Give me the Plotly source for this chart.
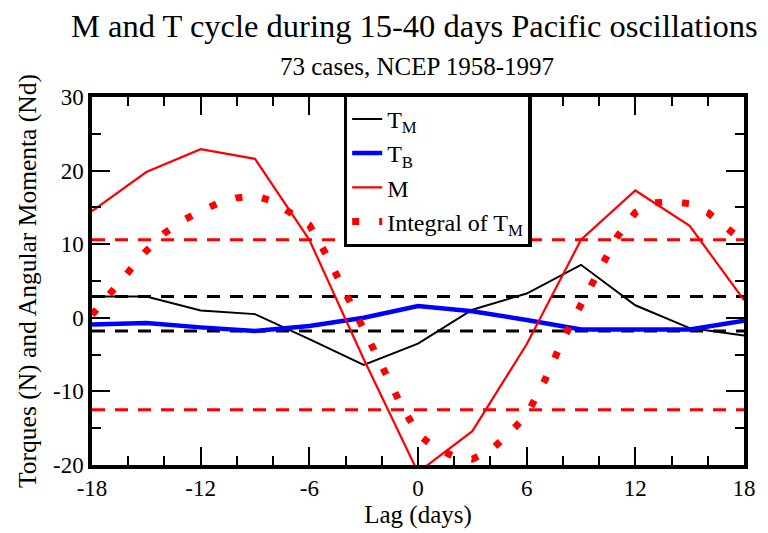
import plotly.graph_objects as go

lag3 = [-18, -15, -12, -9, -6, -3, 0, 3, 6, 9, 12, 15, 18]
T_M = [2.9, 2.9, 1.0, 0.5, -2.9, -6.4, -3.5, 1.1, 3.3, 7.2, 1.7, -1.4, -2.4]
T_B = [-0.9, -0.7, -1.3, -1.8, -1.1, 0.0, 1.6, 0.9, -0.3, -1.6, -1.6, -1.6, -0.4]
M = [14.5, 19.8, 22.9, 21.6, 10.6, -5.6, -21.0, -15.4, -3.6, 10.6, 17.3, 12.5, 2.4]

lag1 = list(range(-18, 19))
integral_TM = [0.4, 3.3, 6.3, 9.1, 11.5, 13.2, 14.5, 15.6, 16.3, 16.6, 15.8, 14.3, 12.6,
               8.3, 3.5, -1.3, -6.5, -11.5, -15.8, -17.8, -18.8, -19.2, -18.0, -15.8,
               -13.2, -8.5, -3.0, 1.8, 6.5, 11.0, 14.3, 15.6, 15.8, 15.5, 14.3, 12.2, 10.3]

TM_bounds = [2.9, -1.8]
M_bounds = [10.6, -12.5]

x_ticks = [-18, -12, -6, 0, 6, 12, 18]
x_ticklabels = ["-18", "-12", "-6", "0", "6", "12", "18"]
y_ticks = [-20, -10, 0, 10, 20, 30]
y_ticklabels = ["-20", "-10", "0", "10", "20", "30"]

title_text = "M and T cycle during 15-40 days Pacific oscillations"
subtitle_text = "73 cases, NCEP 1958-1997"

FONT = "Liberation Serif, Times New Roman, serif"

fig = go.Figure()
fig.add_trace(go.Scatter(x=lag3, y=T_M, mode="lines", name="T<sub>M</sub>",
                         line=dict(color="black", width=2)))
fig.add_trace(go.Scatter(x=lag3, y=T_B, mode="lines", name="T<sub>B</sub>",
                         line=dict(color="#0000ff", width=4.5)))
fig.add_trace(go.Scatter(x=lag3, y=M, mode="lines", name="M",
                         line=dict(color="#ff0000", width=2.2)))
fig.add_trace(go.Scatter(x=lag1, y=integral_TM, mode="lines", name="Integral of T<sub>M</sub>",
                         line=dict(color="#ff0000", width=7, dash="7px,20px")))

for v in TM_bounds:
    fig.add_hline(y=v, line=dict(color="black", width=3, dash="13px,10px"), layer="below")
for v in M_bounds:
    fig.add_hline(y=v, line=dict(color="#ff0000", width=3, dash="13px,10px"), layer="below")

axis_common = dict(
    showline=True, linewidth=3.5, linecolor="black", mirror="allticks",
    ticks="inside", tickwidth=1.5, tickcolor="black", ticklen=18,
    showgrid=False, zeroline=False,
    tickfont=dict(family=FONT, size=23, color="black"),
)

fig.update_xaxes(range=[-18, 18], tickmode="array", tickvals=x_ticks, ticktext=x_ticklabels,
                 minor=dict(ticks="inside", ticklen=9, tickwidth=1.5, tickcolor="black", dtick=2, tick0=0),
                 title=dict(text="Lag (days)", font=dict(family=FONT, size=25, color="black"), standoff=2),
                 **axis_common)
fig.update_yaxes(range=[-20, 30], tickmode="array", tickvals=y_ticks, ticktext=y_ticklabels,
                 minor=dict(ticks="inside", ticklen=9, tickwidth=1.5, tickcolor="black", dtick=5, tick0=0),
                 title=dict(text="Torques (N) and Angular Momenta (Nd)", font=dict(family=FONT, size=25.5, color="black"), standoff=10),
                 **axis_common)

fig.add_annotation(text=title_text, xref="paper", yref="paper", x=0.495, y=1.193,
                   xanchor="center", yanchor="middle", showarrow=False,
                   font=dict(family=FONT, size=32.5, color="black"))
fig.add_annotation(text=subtitle_text, xref="paper", yref="paper", x=0.498, y=1.083,
                   xanchor="center", yanchor="middle", showarrow=False,
                   font=dict(family=FONT, size=25, color="black"))

fig.update_layout(
    width=768, height=533,
    margin=dict(l=92, r=18, t=97, b=63),
    plot_bgcolor="white", paper_bgcolor="white",
    font=dict(family=FONT, color="black"),
    legend=dict(x=0.386, y=1.01, xanchor="left", yanchor="top",
                bgcolor="white", bordercolor="black", borderwidth=3.5,
                font=dict(family=FONT, size=24, color="black"),
                itemwidth=30, tracegroupgap=0),
    showlegend=True,
)

fig.write_html("out.html")
